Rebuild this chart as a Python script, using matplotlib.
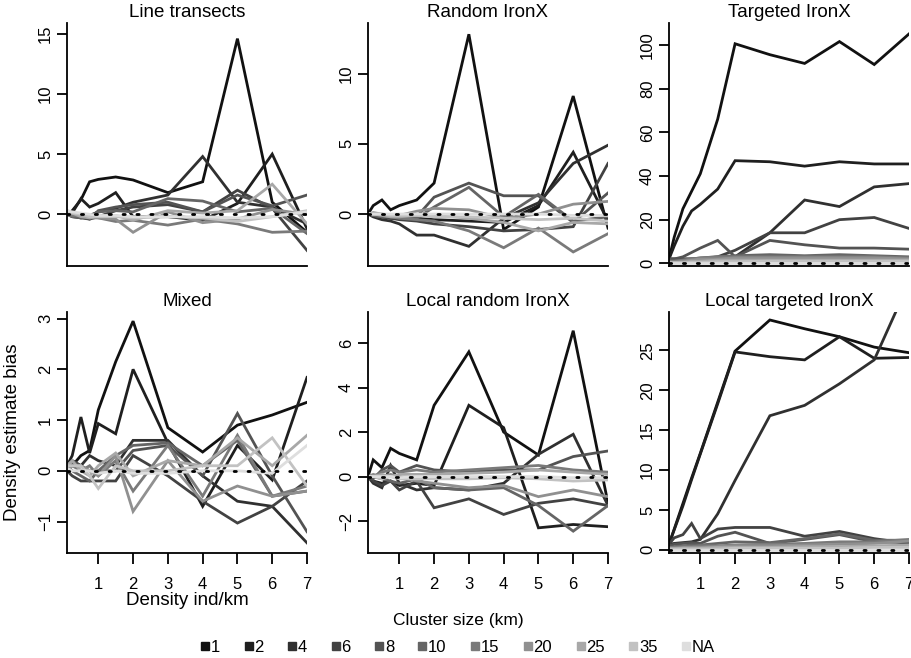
import numpy as np
import matplotlib
matplotlib.use("Agg")
import matplotlib.pyplot as plt
from matplotlib.lines import Line2D

plt.rcParams['font.family'] = ['Liberation Sans', 'DejaVu Sans']

# density values (ind/km) on the x axis
density = [0.1, 0.25, 0.5, 0.75, 1, 1.5, 2, 3, 4, 5, 6, 7]
cluster_sizes = ['1', '2', '4', '6', '8', '10', '15', '20', '25', '35', 'NA']
grays = ['#111111', '#1f1f1f', '#303030', '#424242', '#535353', '#656565',
         '#7a7a7a', '#909090', '#a8a8a8', '#c2c2c2', '#dedede']

titles = ['Line transects', 'Random IronX', 'Targeted IronX',
          'Mixed', 'Local random IronX', 'Local targeted IronX']

# bias per cluster size, one list of series per panel
line_transects = [
    [0.0, 0.3, 1.2, 2.7, 2.9, 3.1, 2.85, 1.8, 2.7, 14.6, 1.0, -1.5],
    [0.0, 0.1, 1.3, 0.6, 0.9, 1.8, -0.2, -0.2, -0.5, 0.9, 5.0, -1.2],
    [0.0, -0.2, -0.3, -0.1, 0.2, 0.5, 1.0, 1.6, 4.8, 1.0, 0.6, -0.8],
    [0.0, -0.1, -0.3, -0.4, -0.2, 0.3, 0.6, 0.8, 0.2, 2.0, 0.5, -3.0],
    [0.0, 0.0, -0.2, -0.4, 0.3, 0.6, 0.8, 1.0, 0.2, 1.6, 0.7, 1.6],
    [0.0, -0.2, -0.3, -0.2, 0.2, 0.3, 0.2, 1.3, 1.1, 0.2, 0.5, -1.6],
    [0.0, -0.1, -0.1, -0.3, -0.3, -0.6, -0.5, -0.9, -0.4, -0.8, -1.5, -1.4],
    [0.2, 0.1, 0.0, -0.1, -0.3, -0.4, -1.5, 0.2, -0.7, -0.4, 0.4, 0.0],
    [0.3, 0.1, -0.2, -0.3, -0.2, -0.1, -0.5, 0.3, 0.1, 0.3, 2.5, -0.8],
    [0.2, 0.1, 0.0, -0.2, -0.2, -0.2, -0.3, -0.2, -0.3, -0.6, -0.2, 0.3],
    [0.3, 0.2, 0.1, 0.0, -0.1, -0.1, -0.2, -0.2, -0.2, -0.3, -0.2, 0.2],
]
random_ironx = [
    [0.0, 0.6, 1.0, 0.3, 0.6, 1.0, 2.2, 12.8, -1.1, 0.5, 8.4, -1.0],
    [0.0, -0.1, -0.2, -0.3, -0.3, -0.3, -0.4, -0.5, -0.6, 0.6, 4.4, -0.5],
    [0.0, -0.2, -0.4, -0.5, -0.7, -1.5, -1.5, -2.3, -0.3, 0.8, 3.6, 4.9],
    [0.0, -0.1, -0.2, -0.3, -0.4, -0.5, -0.7, -0.9, -1.2, -1.1, -0.9, 3.6],
    [0.0, -0.1, -0.2, -0.2, -0.3, -0.2, 1.2, 2.2, 1.3, 1.3, -0.6, 1.5],
    [0.0, -0.1, -0.2, -0.2, -0.2, -0.3, 0.5, 1.9, -0.2, 1.4, -0.5, -0.2],
    [0.0, 0.0, -0.1, -0.2, -0.3, -0.4, -0.5, -1.2, -2.4, -1.0, -2.7, -1.4],
    [0.0, 0.1, 0.0, -0.1, -0.1, 0.2, 0.4, 0.3, -0.3, 0.0, 0.7, 0.9],
    [0.0, 0.0, -0.1, -0.2, -0.2, -0.1, -0.1, -0.3, -0.6, -1.2, -0.6, -0.7],
    [0.0, 0.0, 0.0, -0.1, -0.1, -0.1, -0.2, -0.2, -0.3, -0.4, -0.3, -0.5],
    [0.0, 0.0, 0.0, 0.0, 0.0, 0.0, 0.0, 0.0, 0.0, 0.0, -0.1, -0.1],
]
targeted_ironx = [
    [2, 12, 25, 33, 41, 66, 100.5, 95.5, 91.5, 101.5, 91, 105],
    [2, 8, 17, 24, 27, 34, 47, 46.5, 44.5, 46.5, 45.5, 45.5],
    [2, 2, 2, 2, 2, 2.5, 3, 14, 29, 26, 35, 36.5],
    [2, 2, 2, 2, 2, 3, 6, 14, 14, 20, 21, 16],
    [2, 2, 3, 5, 7, 10.5, 3, 10.5, 8.5, 7, 7, 6.5],
    [1, 1, 1.5, 2, 2.5, 3, 3.5, 4, 3.5, 4, 3.5, 3],
    [1, 1, 1.5, 2, 2.5, 3, 3, 3, 3, 3, 3, 2.5],
    [0.5, 0.5, 1, 1.5, 2, 2, 2.5, 2.5, 2.5, 2.5, 2.5, 2],
    [0.5, 0.5, 0.5, 1, 1, 1.5, 1.5, 1.5, 1.5, 1.5, 1.5, 1.5],
    [0.3, 0.3, 0.3, 0.5, 0.5, 0.8, 0.8, 1, 1, 1, 1, 1],
    [0, 0, 0, 0, 0, 0, 0, 0, 0, 0, 0, 0],
]
mixed = [
    [0.05, 0.1, 0.3, 0.4, 1.2, 2.15, 2.95, 0.85, 0.37, 0.9, 1.1, 1.35],
    [0.1, 0.3, 1.06, 0.35, 0.93, 0.73, 2.0, 0.55, -0.7, 0.5, -0.18, 1.84],
    [0.1, 0.2, 0.1, 0.3, 0.2, 0.1, 0.6, 0.6, -0.1, -0.6, -0.7, -1.42],
    [0.0, -0.1, -0.2, -0.2, -0.2, -0.2, 0.3, -0.1, -0.6, -1.03, -0.7, -0.2],
    [0.1, 0.2, 0.1, 0.0, 0.0, 0.0, 0.4, 0.5, -0.1, 1.13, -0.1, -1.2],
    [0.1, 0.0, -0.1, -0.2, 0.0, 0.3, 0.5, 0.55, 0.1, 0.6, -0.5, -0.4],
    [0.0, 0.1, 0.0, 0.1, -0.1, 0.2, -0.4, 0.5, -0.5, 0.7, -0.5, -0.3],
    [0.0, 0.1, 0.1, 0.0, -0.1, 0.3, -0.8, 0.2, -0.6, -0.3, -0.5, -0.4],
    [0.1, 0.2, 0.0, -0.1, 0.1, 0.35, -0.1, 0.2, 0.1, 0.65, 0.1, 0.7],
    [0.1, 0.1, 0.1, -0.1, -0.35, 0.1, 0.0, 0.0, 0.1, 0.1, 0.65, -0.3],
    [0.05, 0.0, 0.0, 0.0, -0.05, 0.0, -0.05, -0.05, 0.0, 0.0, -0.05, 0.5],
]
local_random = [
    [0.0, 0.75, 0.4, 1.27, 1.04, 0.75, 3.2, 5.6, 2.0, 0.97, 6.55, -1.2],
    [0.0, -0.2, -0.3, -0.2, -0.4, -0.3, -0.4, 3.2, 2.2, -2.3, -2.15, -2.25],
    [0.0, -0.3, -0.5, 0.5, -0.3, -0.6, -0.5, -0.6, -0.3, 1.0, 1.9, -1.3],
    [0.0, -0.2, -0.4, -0.2, -0.6, -0.2, -1.4, -1.0, -1.7, -1.2, -1.0, -1.3],
    [0.0, -0.1, 0.3, 0.5, 0.2, 0.5, 0.3, 0.2, 0.3, 0.3, 0.9, 1.15],
    [0.0, 0.0, -0.1, -0.2, -0.3, -0.1, -0.5, -0.6, -0.5, -1.3, -2.45, -1.3],
    [0.0, 0.0, 0.2, 0.3, 0.2, 0.3, 0.2, 0.3, 0.4, 0.5, 0.3, 0.2],
    [0.0, 0.1, 0.0, 0.1, 0.0, -0.2, -0.3, -0.5, -0.4, -0.9, -0.6, -0.9],
    [0.0, 0.0, 0.1, 0.0, 0.1, 0.1, 0.1, 0.15, 0.2, 0.3, 0.2, 0.1],
    [0.0, 0.0, -0.1, 0.0, -0.1, -0.1, -0.1, -0.1, -0.05, -0.1, -0.2, -0.15],
    [0.0, 0.0, 0.0, 0.0, -0.05, 0.0, 0.0, 0.0, 0.0, 0.0, -0.05, -0.05],
]
local_targeted = [
    [0.7, 2.6, 5.8, 9.0, 12.1, 18.5, 24.9, 28.8, 27.7, 26.7, 25.4, 24.7],
    [0.7, 2.5, 5.5, 8.8, 12.0, 18.3, 24.8, 24.2, 23.8, 26.7, 24.0, 24.1],
    [0.7, 0.8, 0.9, 1.0, 1.3, 4.5, 8.7, 16.8, 18.1, 20.8, 23.8, 33.5],
    [0.7, 1.5, 1.9, 3.3, 1.4, 2.6, 2.8, 2.8, 1.7, 2.3, 1.4, 0.8],
    [0.5, 0.7, 0.8, 0.9, 0.8, 1.7, 2.2, 0.8, 1.3, 1.9, 1.0, 0.9],
    [0.3, 0.4, 0.5, 0.6, 0.6, 0.8, 1.0, 0.9, 1.4, 2.0, 1.2, 1.2],
    [0.3, 0.3, 0.4, 0.4, 0.5, 0.5, 0.6, 0.7, 0.8, 1.0, 1.0, 1.3],
    [0.2, 0.2, 0.3, 0.3, 0.3, 0.4, 0.5, 0.5, 0.6, 0.7, 0.8, 1.1],
    [0.1, 0.1, 0.2, 0.2, 0.2, 0.3, 0.3, 0.3, 0.4, 0.4, 0.5, 0.6],
    [0.1, 0.1, 0.1, 0.1, 0.1, 0.1, 0.2, 0.2, 0.2, 0.2, 0.3, 0.3],
    [0, 0, 0, 0, 0, 0, 0, 0, 0, 0, 0, 0],
]

panels = [line_transects, random_ironx, targeted_ironx,
          mixed, local_random, local_targeted]
yticks = [[0, 5, 10, 15], [0, 5, 10], [0, 20, 40, 60, 80, 100],
          [-1, 0, 1, 2, 3], [-2, 0, 2, 4, 6], [0, 5, 10, 15, 20, 25]]
ylims = [(-4.3, 15.9), (-3.7, 13.6), (-1.2, 110),
         (-1.62, 3.13), (-3.43, 7.39), (-0.4, 29.8)]

W, H = 912, 658
fig = plt.figure(figsize=(W / 100, H / 100), dpi=100)

# panel boxes in pixels: left, right, top, bottom
lefts = [67, 368, 669]
rights = [307, 608, 909]
rows = [(23, 266), (312, 553)]

for i, series in enumerate(panels):
    r, c = divmod(i, 3)
    l, rt = lefts[c], rights[c]
    t, b = rows[r]
    ax = fig.add_axes([l / W, 1 - b / H, (rt - l) / W, (b - t) / H])
    for vals, col in zip(series, grays):
        ax.plot(density, vals, color=col, lw=2.0, solid_joinstyle='miter')
    ax.axhline(0, color='black', lw=2.0, ls=(0, (0.8, 4.2)), dash_capstyle='round')
    ax.set_xlim(0.1, 7)
    ax.set_ylim(*ylims[i])
    ax.set_yticks(yticks[i])
    for s in ['top', 'right']:
        ax.spines[s].set_visible(False)
    for s in ['left', 'bottom']:
        ax.spines[s].set_linewidth(1.3)
    ax.tick_params(axis='y', length=7, width=1.3, labelsize=12, pad=3)
    for lab in ax.get_yticklabels():
        lab.set_rotation(90)
        lab.set_va('center')
    if r == 0:
        ax.set_xticks([])
    else:
        ax.set_xticks([1, 2, 3, 4, 5, 6, 7])
        ax.tick_params(axis='x', length=8, width=1.3, labelsize=12, pad=9)
    ax.set_title(titles[i], fontsize=13.5, pad=4)
    if i == 3:
        ax.set_xlabel('Density ind/km', fontsize=13.5, labelpad=0)

fig.text(13 / W, 1 - 432 / H, 'Density estimate bias', rotation=90,
         ha='center', va='center', fontsize=13.5)

handles = [Line2D([], [], ls='none', marker='s', markersize=6, color=col)
           for col in grays]
leg = fig.legend(handles, cluster_sizes, loc='center', ncol=11,
                 bbox_to_anchor=(458 / W, 1 - 634 / H), frameon=False,
                 title='Cluster size (km)', title_fontsize=12.5, fontsize=12,
                 handlelength=0.5, handletextpad=0.1, columnspacing=1.45,
                 borderpad=0, labelspacing=0)
leg._legend_box.sep = 8

fig.savefig('out.png', dpi=100)
